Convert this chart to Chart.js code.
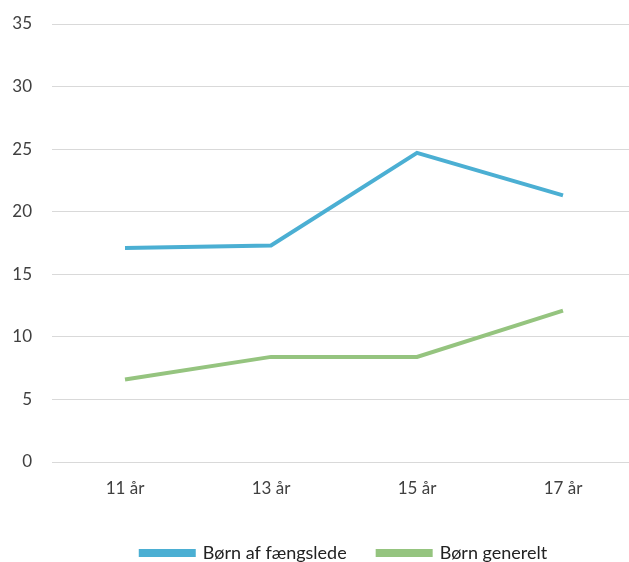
<!DOCTYPE html>
<html>
<head>
<meta charset="utf-8">
<style>
  html, body { margin: 0; padding: 0; background: #fff; overflow: hidden; }
  #wrap { width: 629px; height: 562px; overflow: hidden; }
</style>
</head>
<body>
<div id="wrap">
  <canvas id="chart" width="636" height="572"></canvas>
</div>

<script src="https://cdn.jsdelivr.net/npm/chart.js"></script>
<script>
const ages = ['11 år', '13 år', '15 år', '17 år'];
const fangsledeValues = [17.1, 17.3, 24.7, 21.3];
const generelValues = [6.6, 8.4, 8.4, 12.1];
const seriesLabels = ['Børn af fængslede', 'Børn generelt'];
const seriesColors = ['#4BAFD3', '#95C47F'];

Chart.defaults.font.family = 'Lato, "Open Sans", sans-serif';
Chart.defaults.color = '#404040';

new Chart(document.getElementById('chart'), {
  type: 'line',
  data: {
    labels: ages,
    datasets: [
      {
        label: seriesLabels[0],
        data: fangsledeValues,
        borderColor: seriesColors[0],
        backgroundColor: seriesColors[0],
        borderWidth: 4,
        pointRadius: 0,
        tension: 0
      },
      {
        label: seriesLabels[1],
        data: generelValues,
        borderColor: seriesColors[1],
        backgroundColor: seriesColors[1],
        borderWidth: 4,
        pointRadius: 0,
        tension: 0
      }
    ]
  },
  options: {
    responsive: false,
    animation: false,
    layout: { padding: { top: 24, left: 0, right: 0, bottom: 0 } },
    scales: {
      x: {
        offset: true,
        grid: { display: false },
        border: { display: false },
        ticks: { font: { size: 17 }, padding: 8 },
        afterFit: (scale) => { scale.height = 51; }
      },
      y: {
        min: 0,
        max: 35,
        ticks: { stepSize: 5, font: { size: 17 }, padding: 20 },
        grid: { color: '#d9d9d9', lineWidth: 1, drawTicks: false },
        border: { display: false },
        afterFit: (scale) => {
          scale.width = 52;
          scale.paddingTop = 0;
          scale.paddingBottom = 0;
        }
      }
    },
    plugins: {
      legend: {
        position: 'bottom',
        fullSize: false,
        labels: {
          boxWidth: 53,
          boxHeight: 4,
          padding: 31,
          font: { size: 18 },
          color: '#222'
        }
      },
      tooltip: { enabled: false }
    }
  }
});
</script>
</body>
</html>
